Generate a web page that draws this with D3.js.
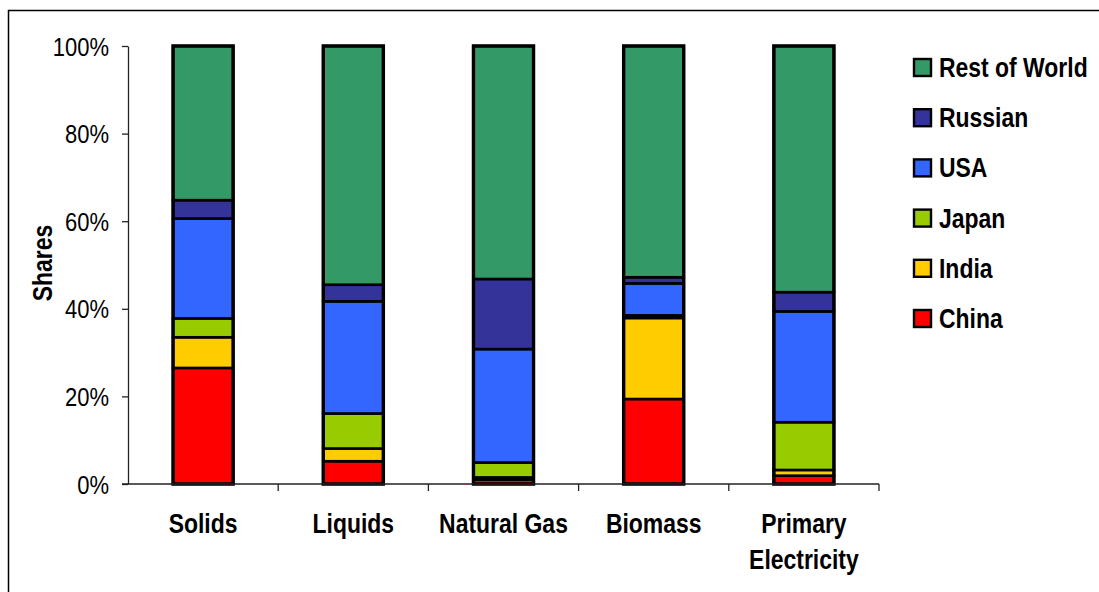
<!DOCTYPE html>
<html>
<head>
<meta charset="utf-8">
<script src="https://cdn.jsdelivr.net/npm/d3@7"></script>
<style>
  html, body { margin: 0; padding: 0; background: #fff; }
  svg { display: block; }
  text { font-family: "Liberation Sans Narrow", "Arial Narrow", "Liberation Sans", Arial, sans-serif; fill: #000; }
</style>
</head>
<body>
<svg id="chart" width="1099" height="592"></svg>
<script>
// ---- data ----
const categories = ["Solids", "Liquids", "Natural Gas", "Biomass", "Primary Electricity"];
const seriesNames = ["China", "India", "Japan", "USA", "Russian", "Rest of World"];
const china   = [26.5, 5.2, 1.0, 19.4, 1.9];
const india   = [7.0, 2.9, 0.5, 18.5, 1.3];
const japan   = [4.3, 8.0, 3.4, 0.6, 10.9];
const usa     = [22.8, 25.6, 25.9, 7.3, 25.3];
const russian = [4.2, 3.8, 16.0, 1.4, 4.4];
const restOfWorld = [35.2, 54.5, 53.2, 52.8, 56.2];
const yTicks = [0, 20, 40, 60, 80, 100];
const colors = ["#FF0000", "#FFCC00", "#99CC00", "#3366FF", "#333399", "#339966"];

const seriesValues = [china, india, japan, usa, russian, restOfWorld];
const table = categories.map((c, i) => {
  const row = { category: c };
  seriesNames.forEach((s, k) => row[s] = seriesValues[k][i]);
  return row;
});

const svg = d3.select("#chart");
const SX = 0.85; // horizontal condensing to imitate a narrow face

// outer frame
svg.append("rect").attr("x", 8.5).attr("y", 10.5).attr("width", 1200).attr("height", 700)
  .attr("fill", "none").attr("stroke", "#000").attr("stroke-width", 1.5);

const mLeft = 128, mRight = 879, mTop = 46, mBottom = 484;
const x = d3.scaleBand().domain(categories).range([mLeft, mRight]).paddingInner(0.6).paddingOuter(0.3);
const y = d3.scaleLinear().domain([0, 100]).range([mBottom, mTop]);
const color = d3.scaleOrdinal().domain(seriesNames).range(colors);

const stacked = d3.stack().keys(seriesNames)(table);

// bars
const g = svg.append("g");
g.selectAll("g.series").data(stacked).join("g")
  .attr("class", "series")
  .attr("fill", d => color(d.key))
  .selectAll("rect").data(d => d).join("rect")
  .attr("x", d => x(d.data.category))
  .attr("width", x.bandwidth())
  .attr("y", d => y(d[1]))
  .attr("height", d => y(d[0]) - y(d[1]))
  .attr("stroke", "#000").attr("stroke-width", 2.6);

// outer bar outline
g.selectAll("rect.outline").data(categories).join("rect")
  .attr("class", "outline")
  .attr("x", d => x(d)).attr("width", x.bandwidth())
  .attr("y", y(100)).attr("height", y(0) - y(100))
  .attr("fill", "none").attr("stroke", "#000").attr("stroke-width", 3.4);

// y axis
const yAxis = d3.axisLeft(y).tickValues(yTicks).tickFormat(d => d + "%").tickSize(6).tickSizeOuter(0);
const ya = svg.append("g").attr("transform", `translate(${mLeft},0)`).call(yAxis);
ya.select(".domain").attr("stroke", "#222").attr("stroke-width", 1.3);
ya.selectAll(".tick line").attr("stroke", "#222").attr("stroke-width", 1.3);
ya.selectAll(".tick text").attr("x", -19 / 0.88).attr("dy", "0.36em").attr("font-size", 25)
  .attr("transform", "scale(0.88,1)")
  .attr("fill", "#111");

// x axis with ticks at band boundaries
const bounds = d3.range(categories.length + 1).map(i => mLeft + i * (mRight - mLeft) / categories.length);
svg.append("line").attr("x1", mLeft - 6).attr("x2", mRight).attr("y1", mBottom).attr("y2", mBottom)
  .attr("stroke", "#222").attr("stroke-width", 1.3);
svg.selectAll("line.xt").data(bounds.slice(1)).join("line").attr("class", "xt")
  .attr("x1", d => d).attr("x2", d => d).attr("y1", mBottom).attr("y2", mBottom + 7)
  .attr("stroke", "#222").attr("stroke-width", 1.3);

// category labels
const labelLines = { "Primary Electricity": ["Primary", "Electricity"] };
categories.forEach(c => {
  const lines = labelLines[c] || [c];
  const cx = x(c) + x.bandwidth() / 2;
  lines.forEach((l, i) => {
    svg.append("text")
      .attr("transform", `translate(${cx},${533 + i * 36}) scale(${SX},1)`)
      .attr("text-anchor", "middle").attr("font-size", 27).attr("font-weight", "bold").text(l);
  });
});

// y title
svg.append("text").attr("transform", `translate(52,263) rotate(-90) scale(${SX},1)`)
  .attr("text-anchor", "middle").attr("font-size", 27).attr("font-weight", "bold").text("Shares");

// legend
const legendOrder = seriesNames.slice().reverse();
const lg = svg.append("g").attr("transform", "translate(913,58)");
const items = lg.selectAll("g").data(legendOrder).join("g")
  .attr("transform", (d, i) => `translate(0,${i * 50.2})`);
items.append("rect").attr("x", 1).attr("y", 1).attr("width", 17).attr("height", 17)
  .attr("fill", d => color(d)).attr("stroke", "#000").attr("stroke-width", 2.4);
items.append("text").attr("transform", `translate(26,19) scale(${SX},1)`)
  .attr("font-size", 27).attr("font-weight", "bold").text(d => d);
</script>
</body>
</html>
